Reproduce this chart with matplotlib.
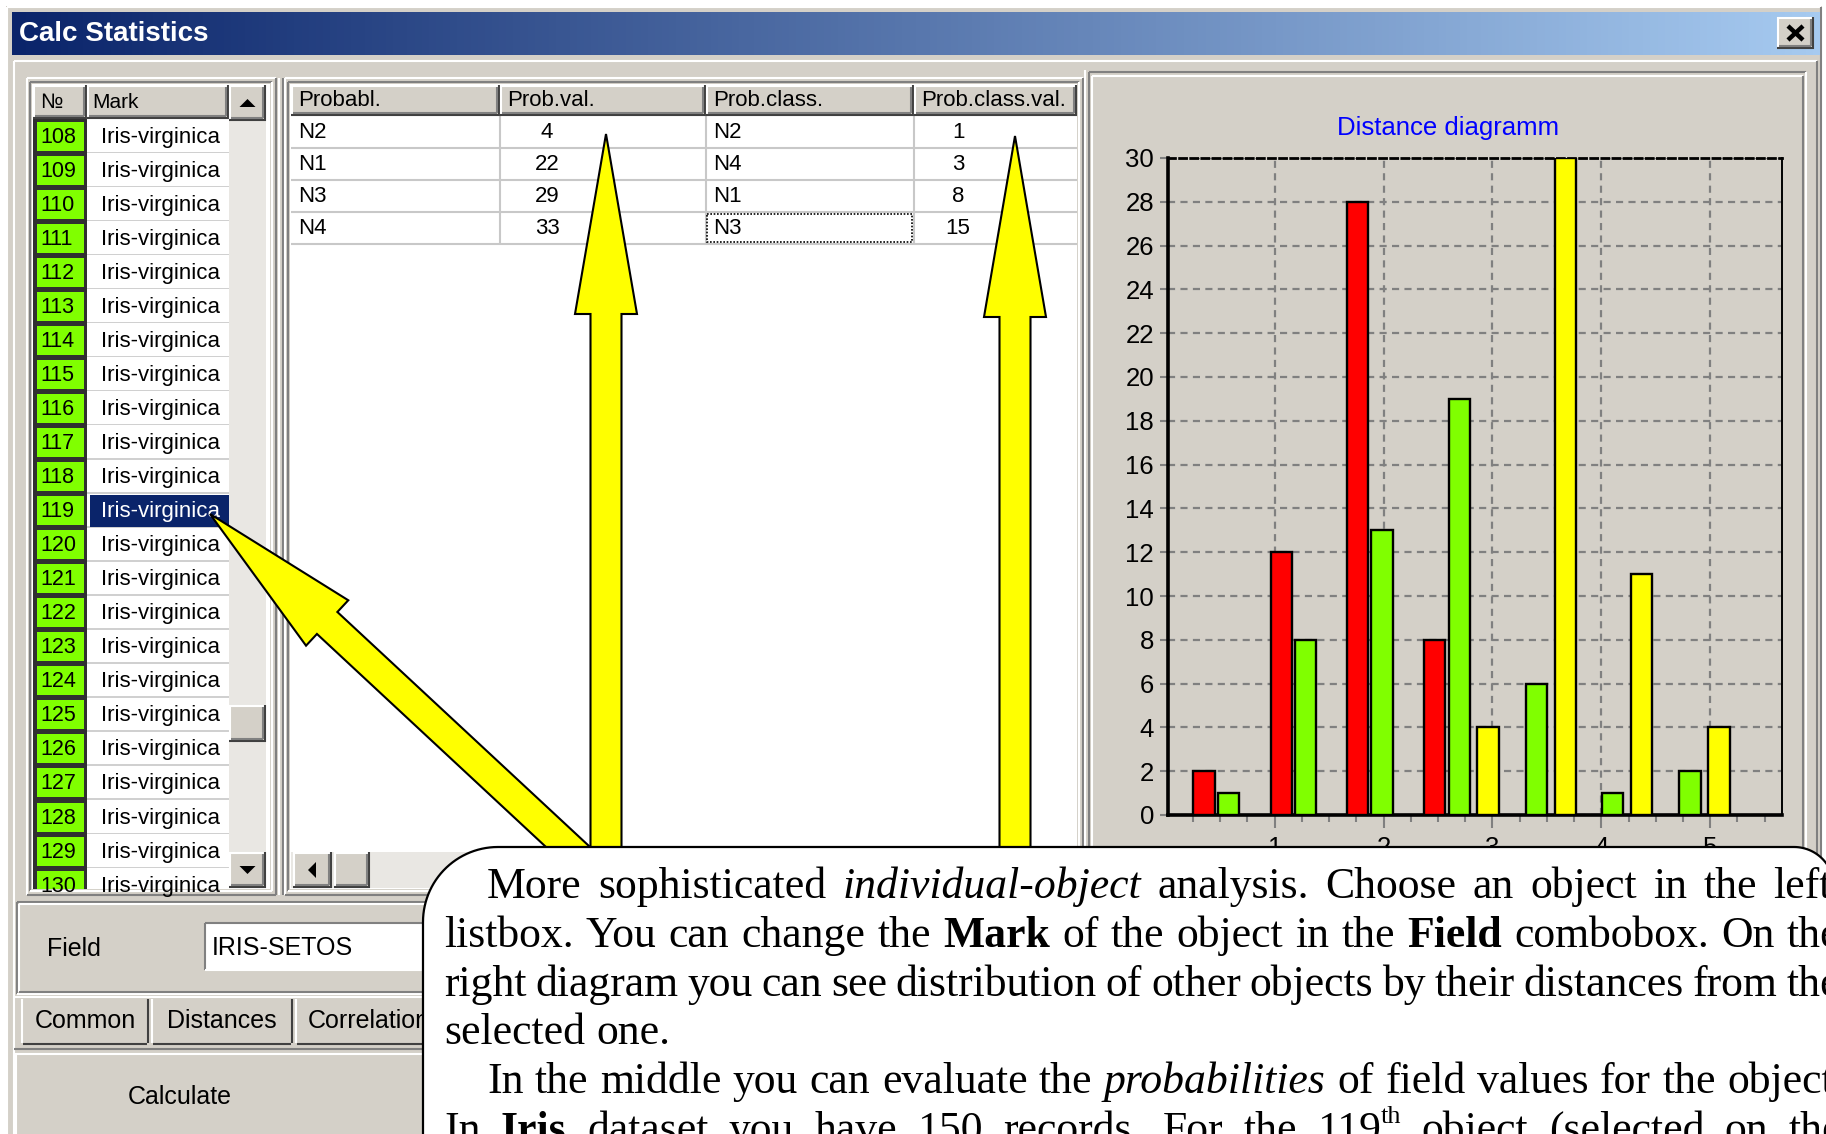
import matplotlib
matplotlib.use('Agg')
import matplotlib.pyplot as plt
import numpy as np
from matplotlib.patches import Rectangle, Polygon
from matplotlib.colors import LinearSegmentedColormap

# ------------------------------------------------------------------ data
window_title = 'Calc Statistics'
list_numbers = list(range(108, 131))
list_marks = ['Iris-virginica'] * len(list_numbers)
selected_number = 119
list_headers = ['№', 'Mark']

table_headers = ['Probabl.', 'Prob.val.', 'Prob.class.', 'Prob.class.val.']
prob_names = ['N2', 'N1', 'N3', 'N4']
prob_values = [4, 22, 29, 33]
prob_class_names = ['N2', 'N4', 'N1', 'N3']
prob_class_values = [1, 3, 8, 15]

chart_title = 'Distance diagramm'
bin_distances = [0.35, 1.06, 1.76, 2.47, 3.18, 3.88, 4.59]
red_counts = [2, 12, 28, 8, 0, 0, 0]
green_counts = [1, 8, 13, 19, 6, 1, 2]
yellow_counts = [0, 0, 0, 4, 30, 11, 4]
y_ticks = list(range(0, 31, 2))
x_ticks = [1, 2, 3, 4, 5]

field_label = 'Field'
field_value = 'IRIS-SETOS'
tab_labels = ['Common', 'Distances', 'Correlation']
button_label = 'Calculate'

callout_lines = [
    "More sophisticated *individual-object* analysis. Choose an object in the left",
    "listbox. You can change the **Mark** of the object in the **Field** combobox. On the",
    "right diagram you can see distribution of other objects by their distances from the",
    "selected one.",
    "In the middle you can evaluate the *probabilities* of field values for the object.",
    "In **Iris** dataset you have 150 records. For the 119^th object (selected on the",
]

# ------------------------------------------------------------------ layout / style
W, H, DPI = 1826, 1134, 100
GRAY = '#d4d0c8'
DARK = '#808080'
TRACK = '#e9e7e3'
UIF = ['Liberation Sans', 'DejaVu Sans']
plt.rcParams['font.family'] = UIF

fig = plt.figure(figsize=(W / DPI, H / DPI), dpi=DPI)
fig.patch.set_facecolor('white')
ui = fig.add_axes([0, 0, 1, 1], zorder=0)
ui.axis('off')


def rect(x0, y0, x1, y1, fc, ec='none', lw=0, z=1, ax=None, **kw):
    a = ax if ax is not None else ui
    p = Rectangle((x0, y0), x1 - x0, y1 - y0, facecolor=fc, edgecolor=ec,
                  linewidth=lw, zorder=z, **kw)
    a.add_patch(p)
    return p


def line(xs, ys, c, lw=1.5, z=3, **kw):
    ui.plot(xs, ys, color=c, lw=lw, zorder=z, solid_capstyle='butt', **kw)


def bevel(x0, y0, x1, y1, raised=True, z=3, lw=1.5):
    c1, c2 = ('white', DARK) if raised else (DARK, 'white')
    line([x0, x1], [y0, y0], c1, lw, z)
    line([x0, x0], [y0, y1], c1, lw, z)
    line([x0, x1], [y1, y1], c2, lw, z)
    line([x1, x1], [y0, y1], c2, lw, z)


def button(x0, y0, x1, y1, z=2):
    rect(x0, y0, x1, y1, GRAY, z=z)
    line([x0, x1], [y0 + 1, y0 + 1], 'white', 1.5, z + 1)
    line([x0 + 1, x0 + 1], [y0, y1], 'white', 1.5, z + 1)
    line([x0, x1], [y1 - 1, y1 - 1], '#404040', 1.5, z + 1)
    line([x1 - 1, x1 - 1], [y0, y1], '#404040', 1.5, z + 1)
    line([x0 + 2, x1 - 3], [y1 - 3.5, y1 - 3.5], DARK, 1.5, z + 1)
    line([x1 - 3.5, x1 - 3.5], [y0 + 2, y1 - 3], DARK, 1.5, z + 1)


def tri(cx, cy, s, direction, z=4):
    if direction == 'up':
        pts = [(cx - s, cy + s / 2), (cx + s, cy + s / 2), (cx, cy - s / 2)]
    elif direction == 'down':
        pts = [(cx - s, cy - s / 2), (cx + s, cy - s / 2), (cx, cy + s / 2)]
    else:
        pts = [(cx + s / 2, cy - s), (cx + s / 2, cy + s), (cx - s / 2, cy)]
    ui.add_patch(Polygon(pts, closed=True, facecolor='black', edgecolor='none', zorder=z))


# window body
rect(6, 6, 1822, 1145, GRAY, z=0.5)
bevel(7, 7, 1821, 1145, raised=True, z=1)
grad = np.linspace(0, 1, 512).reshape(1, -1)
tb_cmap = LinearSegmentedColormap.from_list('tb', ['#0a246a', '#a6caf0'])
ui.imshow(grad, extent=[12, 1820, 55, 12], aspect='auto', cmap=tb_cmap, zorder=1)
ui.text(19, 34, window_title, color='white', fontsize=20, fontweight='bold',
        va='center', ha='left', zorder=3)
button(1777, 17, 1814, 49, z=2)
line([1788, 1803], [26, 40], 'black', 3.2, 5)
line([1803, 1788], [26, 40], 'black', 3.2, 5)

bevel(14, 61, 1817, 1145, raised=True, z=1)

# ------------------------------------------------------------------ left list
bevel(27, 78, 276, 895, raised=True, z=2)
bevel(30, 82, 272, 891, raised=False, z=2)
rect(32, 84, 270, 889, 'white', z=1)
button(33, 85, 87, 119)
button(87, 85, 229, 119)
ui.text(40, 103, list_headers[0], fontsize=15, va='center', ha='left', zorder=5)
ui.text(92, 103, list_headers[1], fontsize=15, va='center', ha='left', zorder=5)
button(229, 85, 266, 121)
tri(247.5, 103, 8, 'up')

clip = Rectangle((33, 119), 196, 770, transform=ui.transData)
row_h = 34.05
rect(33, 119, 87, 889, '#303030', z=1.5)
for i, (num, mark) in enumerate(zip(list_numbers, list_marks)):
    y0 = 119 + row_h * i
    cy = y0 + row_h / 2
    g = rect(37, y0 + 2.5, 84, y0 + row_h - 2.5, '#80ff00', z=2)
    g.set_clip_path(clip)
    sep = rect(87, y0 + row_h - 1.5, 229, y0 + row_h, '#d0d0d0', z=2)
    sep.set_clip_path(clip)
    tcol = 'black'
    if num == selected_number:
        s = rect(90, y0 + 1, 229, y0 + row_h - 1, '#0a246a', z=2.5)
        s.set_clip_path(clip)
        tcol = 'white'
    t1 = ui.text(40, cy + 1, str(num), fontsize=15.5, va='center', ha='left', zorder=4)
    t1.set_clip_path(clip)
    t2 = ui.text(101, cy + 1, mark, fontsize=16, va='center', ha='left', color=tcol, zorder=4)
    t2.set_clip_path(clip)

rect(229, 121, 266, 852, TRACK, z=1.6)
button(229, 705, 266, 742)
button(229, 852, 266, 888)
tri(247.5, 870, 8, 'down')

line([279, 279], [78, 895], 'white', 1.5, 2)
line([283, 283], [78, 895], DARK, 1.5, 2)

# ------------------------------------------------------------------ middle grid
bevel(285, 78, 1083, 895, raised=True, z=2)
bevel(288, 82, 1079, 891, raised=False, z=2)
rect(290, 84, 1077, 889, 'white', z=1)
col_edges = [291, 500, 706, 914, 1077]
for c, name in enumerate(table_headers):
    button(col_edges[c], 85, col_edges[c + 1], 116)
    ui.text(col_edges[c] + 7, 101, name, fontsize=16, va='center', ha='left', zorder=5)
grid_row_h = 32
for i in range(len(prob_names)):
    yb = 116 + grid_row_h * (i + 1)
    line([291, 1077], [yb, yb], '#c8c8c8', 1.5, 2)
for xe in col_edges[1:4]:
    line([xe, xe], [116, 116 + grid_row_h * len(prob_names)], '#c8c8c8', 1.5, 2)
for i in range(len(prob_names)):
    cy = 116 + grid_row_h * i + grid_row_h / 2 + 1
    ui.text(col_edges[0] + 7, cy, prob_names[i], fontsize=16, va='center', ha='left', zorder=5)
    ui.text(col_edges[1] + 47, cy, str(prob_values[i]), fontsize=16, va='center', ha='center', zorder=5)
    ui.text(col_edges[2] + 7, cy, prob_class_names[i], fontsize=16, va='center', ha='left', zorder=5)
    ui.text(col_edges[3] + 44, cy, str(prob_class_values[i]), fontsize=16, va='center', ha='center', zorder=5)
focus_row = 3
fy0 = 116 + grid_row_h * focus_row + 2
ui.add_patch(Rectangle((col_edges[2] + 1, fy0), col_edges[3] - col_edges[2] - 3, grid_row_h - 4,
                       facecolor='none', edgecolor='black', lw=1.2, ls=(0, (1, 1)), zorder=5))

rect(291, 852, 1077, 888, TRACK, z=1.6)
button(293, 852, 332, 888)
tri(312, 870, 8, 'left')
button(334, 852, 370, 888)

line([1085, 1085], [70, 898], 'white', 1.5, 2)

# ------------------------------------------------------------------ right chart panel
bevel(1089, 72, 1806, 898, raised=False, z=2)
bevel(1092, 76, 1803, 895, raised=True, z=2)
ui.text(1448, 128, chart_title, color='#0000ff', fontsize=18.5, va='center', ha='center', zorder=5)

# ------------------------------------------------------------------ bottom controls
bevel(17, 902, 450, 994, raised=False, z=2)
bevel(19, 904, 448, 992, raised=True, z=2)
ui.text(47, 949, field_label, fontsize=18, va='center', ha='left', zorder=5)
rect(205, 923, 450, 970, 'white', z=2)
bevel(205, 923, 450, 970, raised=False, z=3)
ui.text(212, 948, field_value, fontsize=18, va='center', ha='left', zorder=5)

line([14, 450], [997, 997], 'white', 1.5, 2)
tab_edges = [21, 151, 295, 445]
for k, lab in enumerate(tab_labels):
    x0, x1 = tab_edges[k], tab_edges[k + 1] - 2
    rect(x0, 999, x1, 1045, GRAY, z=2)
    line([x0 + 1, x0 + 1], [999, 1043], 'white', 1.5, 3)
    line([x1 - 1, x1 - 1], [999, 1043], '#404040', 1.5, 3)
    line([x0 + 2, x1 - 2], [1044, 1044], '#404040', 1.5, 3)
    ui.text((x0 + x1) / 2, 1021, lab, fontsize=18, va='center', ha='center', zorder=5)
line([14, 450], [1049, 1049], DARK, 1.5, 2)
button(15, 1053, 450, 1150)
ui.text(180, 1097, button_label, fontsize=18, va='center', ha='center', zorder=5)

ui.set_xlim(0, W)
ui.set_ylim(H, 0)

# ------------------------------------------------------------------ bar chart
ax = fig.add_axes([1168 / W, (H - 815) / H, (1782 - 1168) / W, (815 - 158) / H], zorder=1)
ax.set_facecolor('none')
class_offsets = [0.0, 0.226, 0.49]
class_colors = ['#ff0000', '#80ff00', '#ffff00']
bar_w = 0.196
for counts, off, col in zip([red_counts, green_counts, yellow_counts], class_offsets, class_colors):
    xs = [b + off for b, c in zip(bin_distances, counts) if c > 0]
    hs = [c for c in counts if c > 0]
    ax.bar(xs, hs, width=bar_w, color=col, edgecolor='black', linewidth=1.7, zorder=3)
ax.set_xlim(0.02, 5.66)
ax.set_ylim(0, 30)
ax.set_yticks(y_ticks)
ax.set_xticks(x_ticks)
ax.set_xticks(np.arange(0.25, 5.66, 0.25), minor=True)
ax.grid(True, which='major', color='#808080', linestyle=(0, (3.2, 2.4)), linewidth=1.6, zorder=0)
ax.set_axisbelow(True)
ax.tick_params(axis='y', labelsize=18.5, length=6, width=1.5, color=DARK, pad=4)
ax.tick_params(axis='x', which='major', labelsize=18.5, length=9, width=1.5, color=DARK, pad=6)
ax.tick_params(axis='x', which='minor', length=5, width=1.5, color=DARK)
for side in ['left', 'bottom']:
    ax.spines[side].set_linewidth(2.6)
    ax.spines[side].set_color('black')
ax.spines['right'].set_linewidth(1.4)
ax.spines['top'].set_linewidth(2.0)
ax.spines['top'].set_linestyle((0, (2.5, 1.5)))

# ------------------------------------------------------------------ overlay: arrows + callout
ov = fig.add_axes([0, 0, 1, 1], zorder=2)
ov.set_xlim(0, W)
ov.set_ylim(H, 0)
ov.axis('off')
ov.patch.set_alpha(0)


def arrow_poly(tail, tip, shaft_w, head_w, head_len):
    tail = np.array(tail, float)
    tip = np.array(tip, float)
    d = tip - tail
    u = d / np.hypot(*d)
    n = np.array([-u[1], u[0]])
    base = tip - u * head_len
    pts = [tail + n * shaft_w / 2, base + n * shaft_w / 2, base + n * head_w / 2, tip,
           base - n * head_w / 2, base - n * shaft_w / 2, tail - n * shaft_w / 2]
    return Polygon(pts, closed=True, facecolor='#ffff00', edgecolor='black', lw=1.5, zorder=4)


ov.add_patch(arrow_poly((582, 860), (210, 514), 30, 62, 160))
ov.add_patch(arrow_poly((606, 870), (606, 134), 31, 62, 180))
ov.add_patch(arrow_poly((1015, 870), (1015, 136), 31, 62, 181))

left, top, right, bottom = 423, 847, 1834, 1200
rL, rR = 75, 40
pts = [(left, bottom), (left, top + rL)]
th = np.linspace(np.pi, 1.5 * np.pi, 30)
pts += list(zip(left + rL + rL * np.cos(th), top + rL + rL * np.sin(th)))
th = np.linspace(1.5 * np.pi, 2 * np.pi, 30)
pts += list(zip(right - rR + rR * np.cos(th), top + rR + rR * np.sin(th)))
pts += [(right, bottom)]
ov.add_patch(Polygon(pts, closed=True, facecolor='white', edgecolor='black', lw=1.6, zorder=5))

# justified callout text
renderer = fig.canvas.get_renderer()
SERIF = ['Liberation Serif', 'DejaVu Serif']
FS = 31.5


def piece_kw(style):
    kw = dict(family=SERIF, fontsize=FS, color='black', va='baseline', ha='left', zorder=6)
    if style == 'b':
        kw['fontweight'] = 'bold'
    elif style == 'i':
        kw['fontstyle'] = 'italic'
    elif style == 'sup':
        kw['fontsize'] = FS * 0.6
    return kw


def parse_word(w):
    if w.startswith('**') and w.endswith('**'):
        return [(w[2:-2], 'b')]
    if w.startswith('*') and w.endswith('*'):
        return [(w[1:-1], 'i')]
    if '^' in w:
        a, b = w.split('^')
        return [(a, 'n'), (b, 'sup')]
    return [(w, 'n')]


def width(s, style):
    t = ov.text(0, 0, s, **piece_kw(style))
    wd = t.get_window_extent(renderer).width
    t.remove()
    return wd


line_starts = [487, 444, 444, 444, 487, 444]
line_ends = [1832, 1840, 1840, None, 1845, 1842]
base0, lead = 898, 48.8
space_w = width('a a', 'n') - width('aa', 'n')
for li, txt in enumerate(callout_lines):
    words = [parse_word(w) for w in txt.split(' ')]
    wwidths = [[width(s, st) for s, st in wd] for wd in words]
    totals = [sum(ws) for ws in wwidths]
    if line_ends[li] is None or len(words) < 2:
        gap = space_w
    else:
        gap = (line_ends[li] - line_starts[li] - sum(totals)) / (len(words) - 1)
        gap = max(gap, 0.7 * space_w)
    x = line_starts[li]
    yb = base0 + lead * li
    for wd, ws in zip(words, wwidths):
        xx = x
        for (s, st), w in zip(wd, ws):
            dy = -19 if st == 'sup' else 0
            ov.text(xx, yb + dy, s, **piece_kw(st))
            xx += w
        x += sum(ws) + gap

fig.savefig('out.png', dpi=DPI, facecolor='white')
